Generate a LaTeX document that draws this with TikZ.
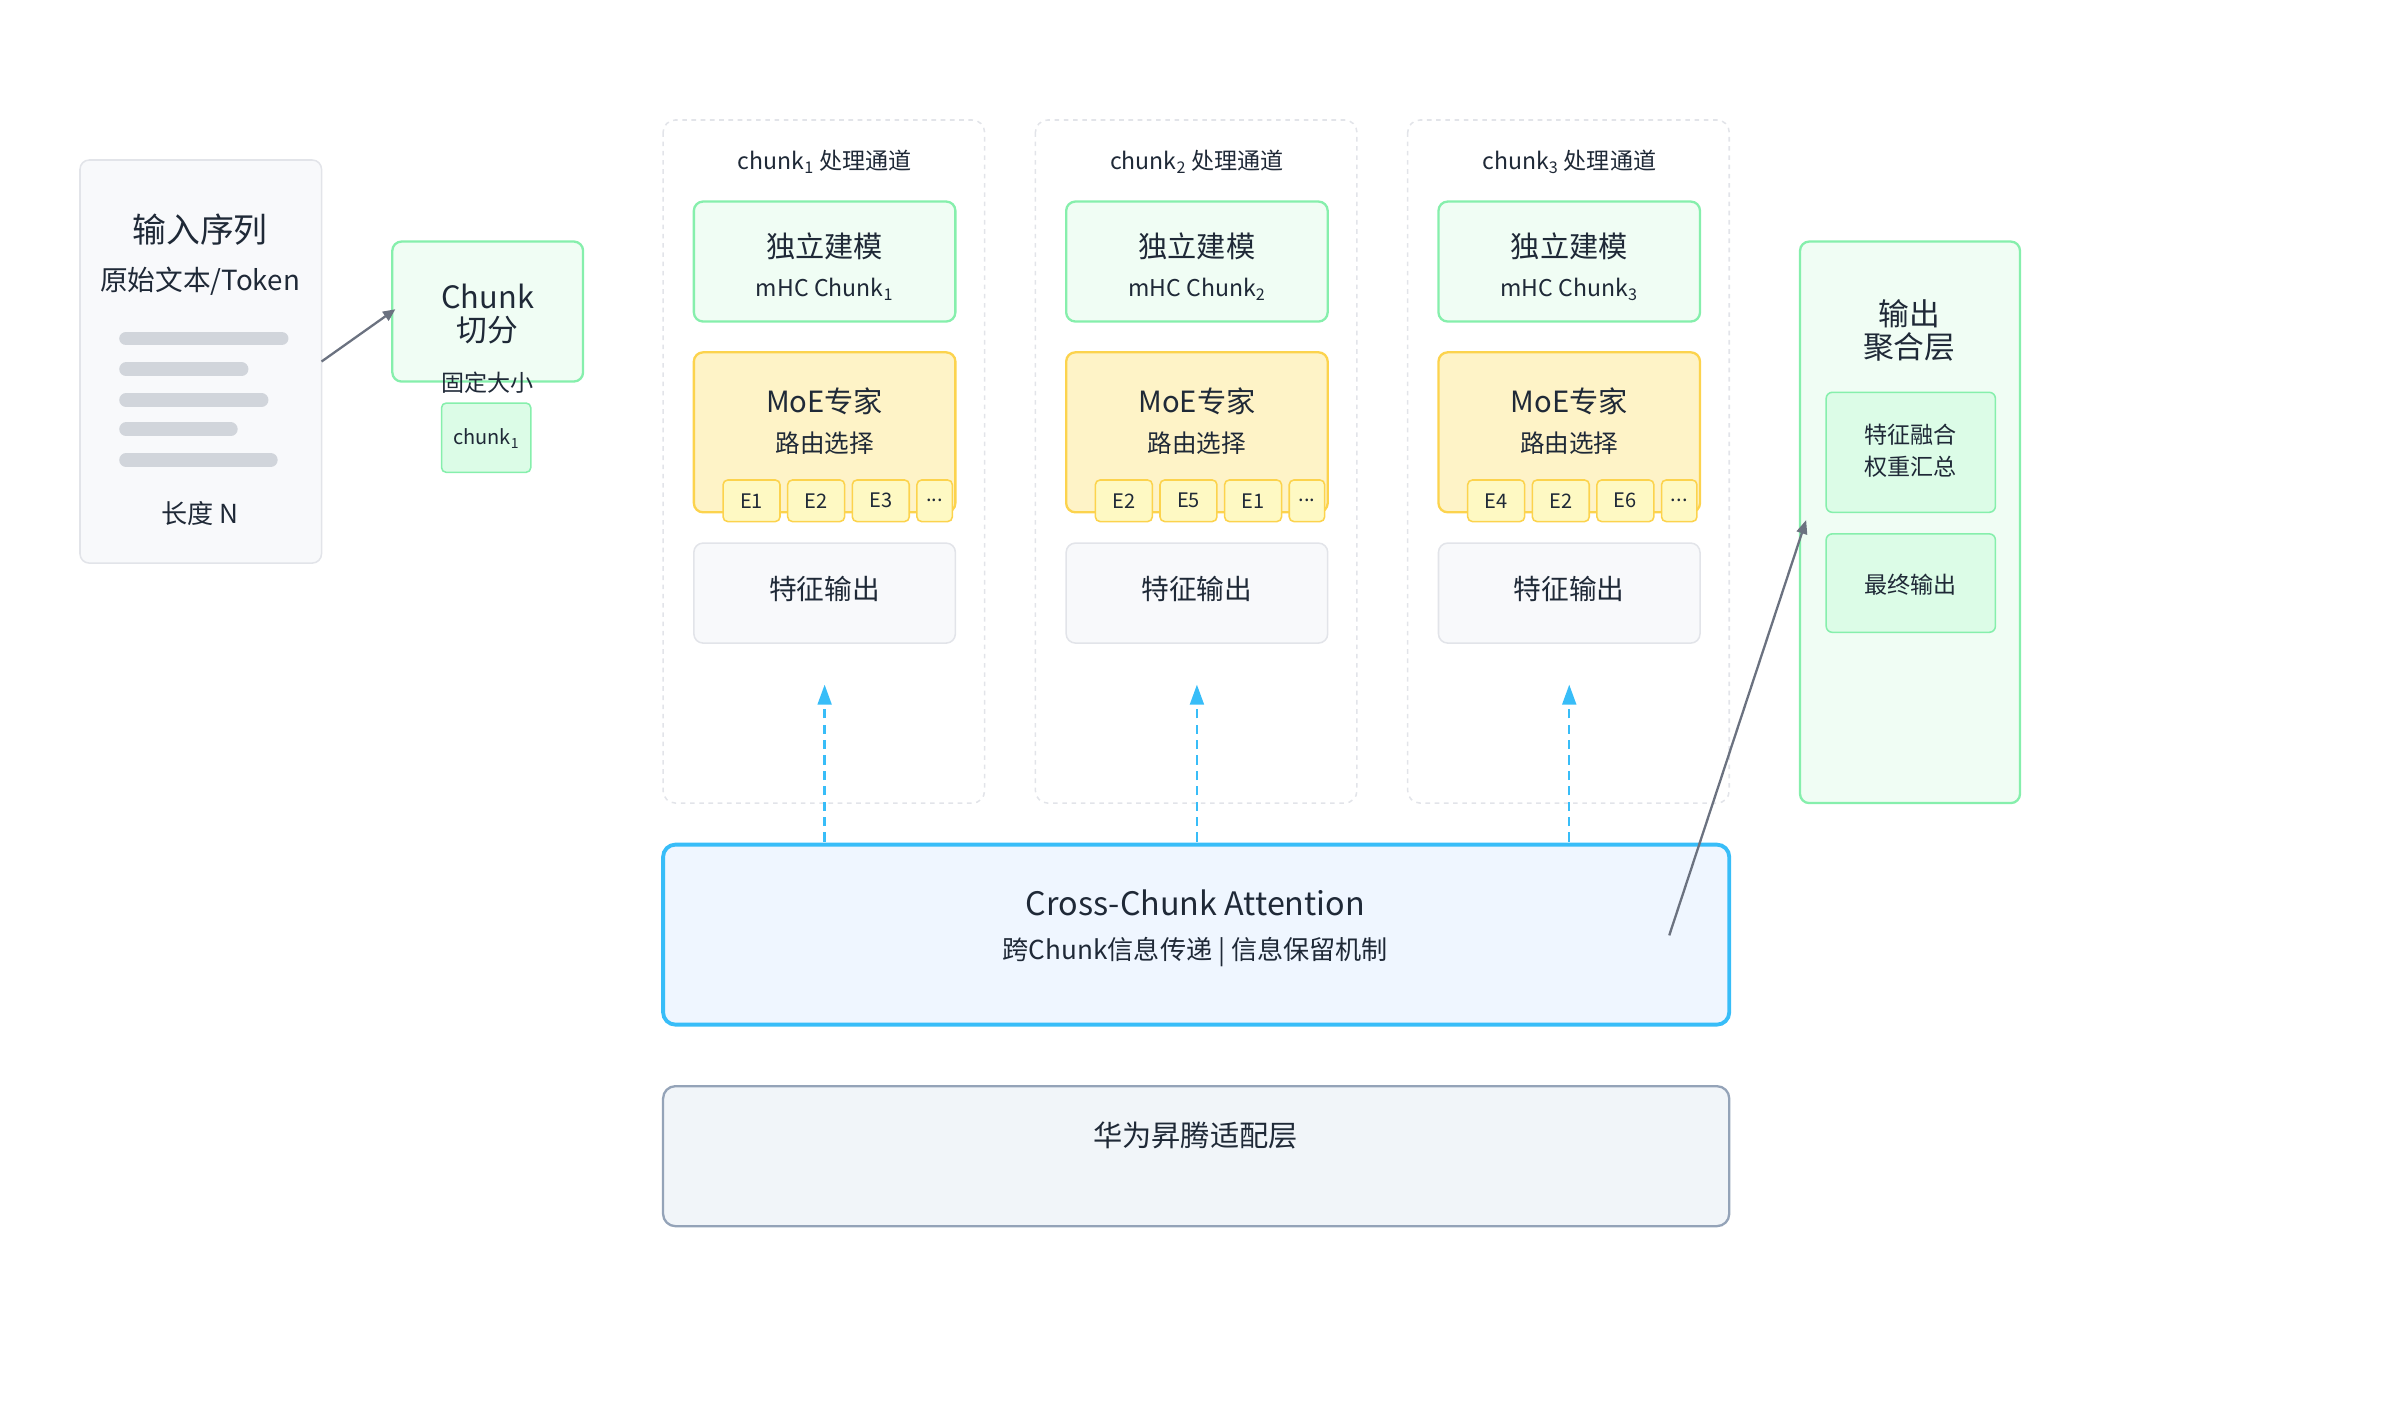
\documentclass[tikz,border=0pt]{standalone}
\usepackage{fontspec}
\setmainfont{Noto Sans CJK SC}
\usetikzlibrary{arrows.meta}
\definecolor{gfill}{HTML}{F0FDF4}\definecolor{gline}{HTML}{86EFAC}\definecolor{gfill2}{HTML}{DCFCE7}
\definecolor{yfill}{HTML}{FEF3C7}\definecolor{yline}{HTML}{FCD34D}\definecolor{yfill2}{HTML}{FEF9C3}
\definecolor{nfill}{HTML}{F8F9FB}\definecolor{nline}{HTML}{E2E4E9}\definecolor{barc}{HTML}{D1D5DB}
\definecolor{bline}{HTML}{38BDF8}\definecolor{bfill}{HTML}{EFF6FF}\definecolor{sfill}{HTML}{F1F5F9}\definecolor{sline}{HTML}{94A3B8}
\definecolor{arr}{HTML}{6B7280}\definecolor{txt}{HTML}{1F2937}
\newcommand{\fs}[1]{\fontsize{#1}{#1}\selectfont}
\begin{document}
\begin{tikzpicture}[x=1pt,y=-1pt,every node/.style={text=txt},
 gbox/.style={draw=gline,fill=gfill,line width=1.5pt,rounded corners=6pt},
 ybox/.style={draw=yline,fill=yfill,line width=1.5pt,rounded corners=6pt},
 nbox/.style={draw=nline,fill=nfill,line width=1pt,rounded corners=6pt},
 ebox/.style={draw=yline,fill=yfill2,line width=1pt,rounded corners=3pt,minimum width=37pt,minimum height=27pt,inner sep=0pt,font=\fs{13}},
 chan/.style={draw=nline,dashed,line width=1pt,rounded corners=8pt},
 barline/.style={draw=barc,line width=9pt,line cap=round}]
\useasboundingbox (0,0) rectangle (1560,910);
% input
\draw[nbox] (52,104) rectangle (209,366);
\node (in) at (130,149) {\fs{22}输入序列};
\node at (130,183) {\fs{18}原始文本/Token};
\foreach \y/\e in {220/183,240/157,260/170,279/150,299/176} \draw[barline] (82,\y)--(\e,\y);
\node at (130,334) {\fs{17}长度 N};
\coordinate (inR) at (209,235);
% chunk split
\draw[gbox] (255,157) rectangle (379,248);
\node[align=center] (cs) at (317,204) {\fs{20}Chunk\\[4pt]\fs{20}切分};
\node at (317,249) {\fs{15}固定大小};
\draw[draw=gline,fill=gfill2,line width=1pt,rounded corners=3pt] (287,262) rectangle (345,307);
\node at (316,285) {\fs{13}chunk\textsubscript{1}};
\coordinate (csL) at (257,201);
\draw[arr,line width=1.5pt,-{Triangle[length=8pt,width=7pt]}] (inR)--(csL);
% channels
\foreach \i/\dx/\a/\b/\c in {1/0/E1/E2/E3,2/242/E2/E5/E1,3/484/E4/E2/E6}{
 \begin{scope}[xshift=\dx pt]
 \draw[chan] (431,78) rectangle (640,522);
 \node at (536,105) {\fs{15}chunk\textsubscript{\i} 处理通道};
 \draw[gbox] (451,131) rectangle (621,209);
 \node at (536,160) {\fs{19}独立建模};
 \node at (536,188) {\fs{15}mHC Chunk\textsubscript{\i}};
 \draw[ybox] (451,229) rectangle (621,333);
 \node at (536,261) {\fs{19}MoE专家};
 \node at (536,288) {\fs{16}路由选择};
 \node[ebox] at (488.5,325.5) {\a};
 \node[ebox] at (530.5,325.5) {\b};
 \node[ebox] at (572.5,325.5) {\c};
 \node[ebox,minimum width=23pt] at (607.5,325.5) {...};
 \draw[nbox] (451,353) rectangle (621,418);
 \node (f\i) at (536,383) {\fs{18}特征输出};
 \coordinate (t\i) at (536,445);
 \coordinate (s\i) at (536,547);
 \end{scope}}
\foreach \i in {1,2,3} \draw[bline,line width=1.5pt,dash pattern=on 6pt off 4pt,-{Triangle[length=13pt,width=9pt]}] (s\i)--(t\i);
% cross chunk
\draw[draw=bline,fill=bfill,line width=2.5pt,rounded corners=8pt] (431,549) rectangle (1124,666);
\node (cc) at (777,587) {\fs{21}Cross-Chunk Attention};
\node at (777,619) {\fs{17}跨Chunk信息传递 | 信息保留机制};
\coordinate (ccR) at (1085,608);
% huawei
\draw[draw=sline,fill=sfill,line width=1.5pt,rounded corners=8pt] (431,706) rectangle (1124,797);
\node (hw) at (777,738) {\fs{19}华为昇腾适配层};
% output
\draw[gbox] (1170,157) rectangle (1313,522);
\node[align=center] at (1241,215) {\fs{20}输出\\[2pt]\fs{20}聚合层};
\draw[draw=gline,fill=gfill2,line width=1pt,rounded corners=4pt] (1187,255) rectangle (1297,333);
\node[align=center] at (1242,293) {\fs{15}特征融合\\[6pt]\fs{15}权重汇总};
\draw[draw=gline,fill=gfill2,line width=1pt,rounded corners=4pt] (1187,347) rectangle (1297,411);
\node at (1242,380) {\fs{15}最终输出};
\coordinate (outL) at (1174,338);
\draw[arr,line width=1.5pt,-{Triangle[length=9pt,width=7pt]}] (ccR)--(outL);
\end{tikzpicture}
\end{document}
